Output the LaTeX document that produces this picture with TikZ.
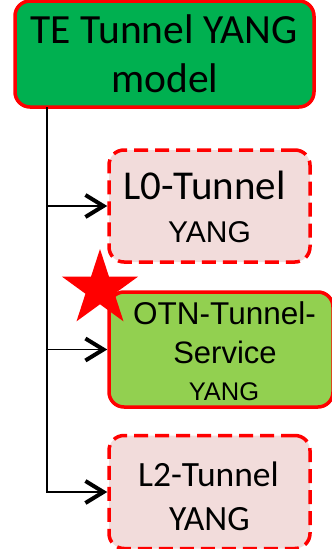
\documentclass[tikz,border=0pt]{standalone}
\usepackage{fontspec}
\setmainfont{Carlito}
\newfontfamily\arialf{Liberation Sans}
\usetikzlibrary{arrows.meta,shapes.geometric}
\definecolor{topgreen}{RGB}{0,176,80}
\definecolor{lightgreen}{RGB}{146,208,80}
\definecolor{pinkfill}{RGB}{242,220,219}
\begin{document}
\begin{tikzpicture}[x=1pt,y=-1pt,
  box/.style={draw=red, line width=3.5pt, rounded corners=15pt, inner sep=0pt},
  dashbox/.style={box, fill=pinkfill, dash pattern=on 14pt off 7pt},
  txt/.style={inner sep=0pt, anchor=base, text=black},
  trunk/.style={line width=1.6pt},
  conn/.style={line width=1.6pt, -{Straight Barb[length=18pt,width=22pt,line width=4pt]}}]
\path[use as bounding box] (0,0) rectangle (332,549);
% boxes
\node[box, fill=topgreen, minimum width=299pt, minimum height=106pt] (top) at (164.5,54) {};
\node[dashbox, minimum width=201pt, minimum height=112pt] (l0) at (209.5,206) {};
\node[box, fill=lightgreen, minimum width=224pt, minimum height=115pt] (otn) at (221,349.5) {};
\node[dashbox, minimum width=201pt, minimum height=113pt] (l2) at (209.5,492) {};
% texts
\node[txt, font=\fontsize{41.5}{49}\selectfont] (t1) at (164,43) {TE Tunnel YANG};
\node[txt, font=\fontsize{41.5}{49}\selectfont] (t2) at (165,92) {model};
\node[txt, font=\fontsize{41}{49}\selectfont] (a1) at (204.5,199) {L0-Tunnel};
\node[txt, font=\arialf\fontsize{30}{36}\selectfont] (a2) at (209.5,242) {YANG};
\node[txt, font=\arialf\fontsize{31.5}{38}\selectfont] (b1) at (224.5,324) {OTN-Tunnel-};
\node[txt, font=\arialf\fontsize{31}{38}\selectfont] (b2) at (225,363) {Service};
\node[txt, font=\arialf\fontsize{25.5}{30}\selectfont] (b3) at (224,400) {YANG};
\node[txt, font=\fontsize{35.5}{43}\selectfont] (c1) at (208.5,486) {L2-Tunnel};
\node[txt, font=\fontsize{35.5}{43}\selectfont] (c2) at (209.5,530) {YANG};
% star
\node[star, star points=5, star point ratio=2.618, fill=red, minimum size=80pt, inner sep=0pt] (star) at (100,289) {};
% connectors
\coordinate (v0) at (47,107);
\draw[trunk] (v0) -- (v0 |- l2.west);
\draw[conn] (v0 |- l0.west) -- (l0.west);
\draw[conn] (v0 |- otn.west) -- (otn.west);
\draw[conn] (v0) |- (l2.west);
\end{tikzpicture}
\end{document}
